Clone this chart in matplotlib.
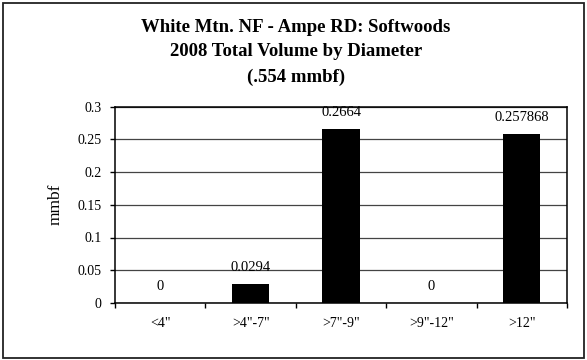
import matplotlib
matplotlib.use("Agg")
import matplotlib.pyplot as plt
from matplotlib.patches import Rectangle

categories = ['<4"', '>4"-7"', '>7"-9"', '>9"-12"', '>12"']
values = [0, 0.0294, 0.2664, 0, 0.257868]
value_labels = ['0', '0.0294', '0.2664', '0', '0.257868']
yticks = [0, 0.05, 0.1, 0.15, 0.2, 0.25, 0.3]
ytick_labels = ['0', '0.05', '0.1', '0.15', '0.2', '0.25', '0.3']
title_lines = ["White Mtn. NF - Ampe RD: Softwoods",
               "2008 Total Volume by Diameter",
               "(.554 mmbf)"]

plt.rcParams['font.family'] = ['Liberation Serif', 'DejaVu Serif']

W, H = 587, 360
fig = plt.figure(figsize=(W / 100, H / 100), dpi=100)
# outer border
fig.patches.append(Rectangle((3 / W, 2 / H), (W - 6) / W, (H - 5) / H,
                             transform=fig.transFigure, fill=False,
                             edgecolor='#222222', linewidth=1.3))

left, right, top, bottom = 115, 567, 106.5, 303
ax = fig.add_axes([left / W, 1 - bottom / H, (right - left) / W, (bottom - top) / H])

x = list(range(len(categories)))
ax.bar(x, values, width=0.41, color='black', zorder=3)
ax.set_xlim(-0.5, len(categories) - 0.5)
ax.set_ylim(0, 0.3)

ax.set_yticks(yticks)
ax.set_yticklabels(ytick_labels, fontsize=10)
ax.yaxis.grid(True, color='#444444', linewidth=0.9, zorder=0)
ax.set_axisbelow(True)

ax.set_xticks(x)
ax.set_xticklabels(categories, fontsize=10)
ax.tick_params(axis='x', length=0, pad=10)
ax.set_xticks([i - 0.5 for i in range(len(categories) + 1)], minor=True)
ax.tick_params(axis='x', which='minor', length=3.6, direction='out', width=1)
ax.tick_params(axis='y', length=3.6, direction='out', width=1, pad=6)

for s in ['left', 'bottom', 'top', 'right']:
    ax.spines[s].set_color('black')
    ax.spines[s].set_linewidth(1.1)

for xi, v, lab in zip(x, values, value_labels):
    ax.annotate(lab, (xi, v), xytext=(0, 7), textcoords='offset points',
                ha='center', va='bottom', fontsize=10.5)

ax.set_ylabel('mmbf', fontsize=12.5, labelpad=10)

for i, line in enumerate(title_lines):
    fig.text(296 / W, 1 - (25 + 25 * i) / H, line, ha='center', va='center_baseline',
             fontsize=13.5, fontweight='bold')

fig.savefig('out.png', dpi=100)
